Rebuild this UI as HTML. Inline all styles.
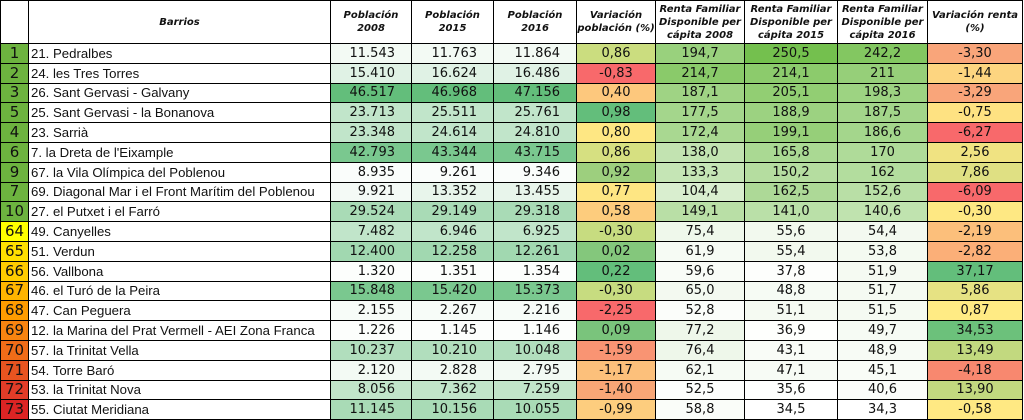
<!DOCTYPE html>
<html><head><meta charset="utf-8"><style>
html,body{margin:0;padding:0;background:#fff;width:1024px;height:420px;overflow:hidden}
table{position:absolute;left:0;top:0;border-collapse:collapse;table-layout:fixed;width:1022px}
td,th{border:1px solid #000;padding:0;overflow:hidden;white-space:nowrap}
th{height:42px;font:italic bold 10px "DejaVu Sans",sans-serif;color:#111;line-height:13px;text-align:center}
td{height:18.8px;font:13px "DejaVu Sans",sans-serif;color:#111;text-align:center;line-height:17px}
td.i{font-size:15px}
td.n{text-align:left;font:13.2px "Liberation Sans",sans-serif;padding-left:2px}
td.p{text-align:right;padding-right:16px}
</style></head><body>
<table>
<colgroup><col style="width:28px"><col style="width:302px"><col style="width:81px"><col style="width:82px"><col style="width:83px"><col style="width:79px"><col style="width:89px"><col style="width:93px"><col style="width:90px"><col style="width:95px"></colgroup>
<tr><th></th><th>Barrios</th><th>Población<br>2008</th><th>Población<br>2015</th><th>Población<br>2016</th><th>Variación<br>población (%)</th><th>Renta Familiar<br>Disponible per<br>cápita 2008</th><th>Renta Familiar<br>Disponible per<br>cápita 2015</th><th>Renta Familiar<br>Disponible per<br>cápita 2016</th><th>Variación renta<br>(%)</th></tr>
<tr><td class="i" style="background:#6db33f">1</td><td class="n">21. Pedralbes</td><td class="p" style="background:#f3faf4">11.543</td><td class="p" style="background:#f3faf4">11.763</td><td class="p" style="background:#f3faf4">11.864</td><td style="background:#cbdd7f">0,86</td><td style="background:#99d17d">194,7</td><td style="background:#74c04e">250,5</td><td style="background:#83c761">242,2</td><td style="background:#f9a57a">-3,30</td></tr>
<tr><td class="i" style="background:#6db33f">2</td><td class="n">24. les Tres Torres</td><td class="p" style="background:#e0f2e5">15.410</td><td class="p" style="background:#e0f2e5">16.624</td><td class="p" style="background:#e0f2e5">16.486</td><td style="background:#f8696b">-0,83</td><td style="background:#8aca6a">214,7</td><td style="background:#8ccb6c">214,1</td><td style="background:#96cf79">211</td><td style="background:#fdd580">-1,44</td></tr>
<tr><td class="i" style="background:#6db33f">3</td><td class="n">26. Sant Gervasi - Galvany</td><td class="p" style="background:#63be7b">46.517</td><td class="p" style="background:#63be7b">46.968</td><td class="p" style="background:#63be7b">47.156</td><td style="background:#fdc87d">0,40</td><td style="background:#9fd384">187,1</td><td style="background:#92ce73">205,1</td><td style="background:#9dd382">198,3</td><td style="background:#f9a57a">-3,29</td></tr>
<tr><td class="i" style="background:#6db33f">5</td><td class="n">25. Sant Gervasi - la Bonanova</td><td class="p" style="background:#c1e5ca">23.713</td><td class="p" style="background:#c1e5ca">25.511</td><td class="p" style="background:#c1e5ca">25.761</td><td style="background:#63be7b">0,98</td><td style="background:#a4d68c">177,5</td><td style="background:#9cd281">188,9</td><td style="background:#a3d58a">187,5</td><td style="background:#fee282">-0,75</td></tr>
<tr><td class="i" style="background:#6db33f">4</td><td class="n">23. Sarrià</td><td class="p" style="background:#c1e5ca">23.348</td><td class="p" style="background:#c1e5ca">24.614</td><td class="p" style="background:#c1e5ca">24.810</td><td style="background:#fee783">0,80</td><td style="background:#a9d891">172,4</td><td style="background:#96cf79">199,1</td><td style="background:#a4d68c">186,6</td><td style="background:#f8696b">-6,27</td></tr>
<tr><td class="i" style="background:#6db33f">6</td><td class="n">7. la Dreta de l'Eixample</td><td class="p" style="background:#7ac88f">42.793</td><td class="p" style="background:#7ac88f">43.344</td><td class="p" style="background:#7ac88f">43.715</td><td style="background:#d6e081">0,86</td><td style="background:#c2e3b1">138,0</td><td style="background:#aad993">165,8</td><td style="background:#afdb99">170</td><td style="background:#f0e382">2,56</td></tr>
<tr><td class="i" style="background:#6db33f">9</td><td class="n">67. la Vila Olímpica del Poblenou</td><td class="p" style="background:#fafdfb">8.935</td><td class="p" style="background:#fafdfb">9.261</td><td class="p" style="background:#fafdfb">9.346</td><td style="background:#9dcf7e">0,92</td><td style="background:#c5e5b5">133,3</td><td style="background:#b5dda0">150,2</td><td style="background:#b3dd9e">162</td><td style="background:#dfe083">7,86</td></tr>
<tr><td class="i" style="background:#6db33f">7</td><td class="n">69. Diagonal Mar i el Front Marítim del Poblenou</td><td class="p" style="background:#f4faf6">9.921</td><td class="p" style="background:#e8f5eb">13.352</td><td class="p" style="background:#e8f5eb">13.455</td><td style="background:#fee683">0,77</td><td style="background:#d9eecf">104,4</td><td style="background:#add997">162,5</td><td style="background:#b9dfa6">152,6</td><td style="background:#f8696b">-6,09</td></tr>
<tr><td class="i" style="background:#6db33f">10</td><td class="n">27. el Putxet i el Farró</td><td class="p" style="background:#a9dbb6">29.524</td><td class="p" style="background:#a9dbb6">29.149</td><td class="p" style="background:#a9dbb6">29.318</td><td style="background:#fdcc7d">0,58</td><td style="background:#b9dfa6">149,1</td><td style="background:#bae0a8">141,0</td><td style="background:#c0e3af">140,6</td><td style="background:#fee883">-0,30</td></tr>
<tr><td class="i" style="background:#ffff00">64</td><td class="n">49. Canyelles</td><td class="p" style="background:#c1e5ca">7.482</td><td class="p" style="background:#c1e5ca">6.946</td><td class="p" style="background:#c1e5ca">6.925</td><td style="background:#c7dc80">-0,30</td><td style="background:#eff8eb">75,4</td><td style="background:#f2f9ee">55,6</td><td style="background:#f3f9f0">54,4</td><td style="background:#fcbf7b">-2,19</td></tr>
<tr><td class="i" style="background:#ffe000">65</td><td class="n">51. Verdun</td><td class="p" style="background:#a1d8b0">12.400</td><td class="p" style="background:#a1d8b0">12.258</td><td class="p" style="background:#a1d8b0">12.261</td><td style="background:#84c77c">0,02</td><td style="background:#f6fbf4">61,9</td><td style="background:#f2f9ee">55,4</td><td style="background:#f4faf1">53,8</td><td style="background:#fbaf78">-2,82</td></tr>
<tr><td class="i" style="background:#ffcc00">66</td><td class="n">56. Vallbona</td><td class="p" style="background:#fcfefc">1.320</td><td class="p" style="background:#fcfefc">1.351</td><td class="p" style="background:#fcfefc">1.354</td><td style="background:#63be7b">0,22</td><td style="background:#f9fcf7">59,6</td><td style="background:#fdfefc">37,8</td><td style="background:#f5faf2">51,9</td><td style="background:#63be7b">37,17</td></tr>
<tr><td class="i" style="background:#ffb400">67</td><td class="n">46. el Turó de la Peira</td><td class="p" style="background:#7ac88f">15.848</td><td class="p" style="background:#7ac88f">15.420</td><td class="p" style="background:#7ac88f">15.373</td><td style="background:#c7dc80">-0,30</td><td style="background:#f3f9f0">65,0</td><td style="background:#f6fbf4">48,8</td><td style="background:#f5faf2">51,7</td><td style="background:#e6e283">5,86</td></tr>
<tr><td class="i" style="background:#ff9c00">68</td><td class="n">47. Can Peguera</td><td class="p" style="background:#f7fcf8">2.155</td><td class="p" style="background:#f7fcf8">2.267</td><td class="p" style="background:#f7fcf8">2.216</td><td style="background:#f8696b">-2,25</td><td style="background:#fbfdfa">52,8</td><td style="background:#f5faf2">51,1</td><td style="background:#f5faf2">51,5</td><td style="background:#ffeb84">0,87</td></tr>
<tr><td class="i" style="background:#f88410">69</td><td class="n">12. la Marina del Prat Vermell - AEI Zona Franca</td><td class="p" style="background:#fcfefc">1.226</td><td class="p" style="background:#fcfefc">1.145</td><td class="p" style="background:#fcfefc">1.146</td><td style="background:#7ac47c">0,09</td><td style="background:#eef7ea">77,2</td><td style="background:#fefffd">36,9</td><td style="background:#f6fbf4">49,7</td><td style="background:#6cc17b">34,53</td></tr>
<tr><td class="i" style="background:#f06c18">70</td><td class="n">57. la Trinitat Vella</td><td class="p" style="background:#b1debd">10.237</td><td class="p" style="background:#b1debd">10.210</td><td class="p" style="background:#b1debd">10.048</td><td style="background:#f99473">-1,59</td><td style="background:#eef7ea">76,4</td><td style="background:#f9fcf7">43,1</td><td style="background:#f7fbf5">48,9</td><td style="background:#c2d97f">13,49</td></tr>
<tr><td class="i" style="background:#e85420">71</td><td class="n">54. Torre Baró</td><td class="p" style="background:#f3faf4">2.120</td><td class="p" style="background:#f3faf4">2.828</td><td class="p" style="background:#f3faf4">2.795</td><td style="background:#fcc07b">-1,17</td><td style="background:#f6fbf4">62,1</td><td style="background:#f7fbf5">47,1</td><td style="background:#f9fcf7">45,1</td><td style="background:#f8886f">-4,18</td></tr>
<tr><td class="i" style="background:#e23c28">72</td><td class="n">53. la Trinitat Nova</td><td class="p" style="background:#c1e5ca">8.056</td><td class="p" style="background:#c1e5ca">7.362</td><td class="p" style="background:#c1e5ca">7.259</td><td style="background:#f9a676">-1,40</td><td style="background:#fdfefc">52,5</td><td style="background:#fefffe">35,6</td><td style="background:#fbfdfa">40,6</td><td style="background:#c2d97f">13,90</td></tr>
<tr><td class="i" style="background:#dc2424">73</td><td class="n">55. Ciutat Meridiana</td><td class="p" style="background:#a9dbb6">11.145</td><td class="p" style="background:#a9dbb6">10.156</td><td class="p" style="background:#a9dbb6">10.055</td><td style="background:#fdcd7e">-0,99</td><td style="background:#fafdf9">58,8</td><td style="background:#ffffff">34,5</td><td style="background:#ffffff">34,3</td><td style="background:#ffe983">-0,58</td></tr>
</table>
</body></html>
